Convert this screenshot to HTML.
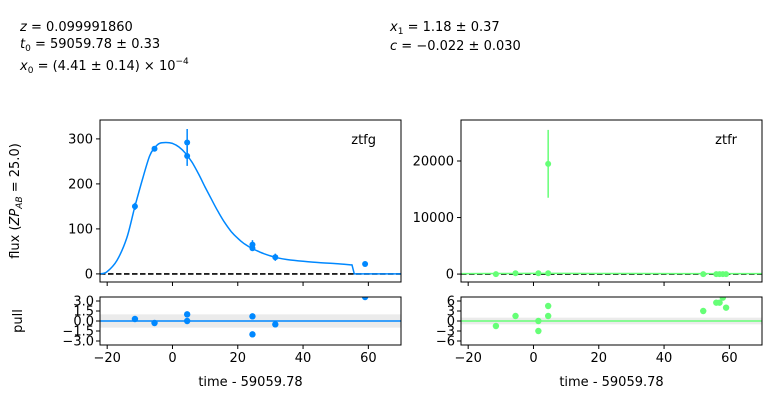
<!DOCTYPE html>
<html><head><meta charset="utf-8"><style>
body{margin:0;background:#fff;}
svg{display:block;font-family:"DejaVu Sans","Liberation Sans",sans-serif;}
.t{font-size:13px;fill:#000}
</style></head><body>
<svg id="c" width="780" height="415" viewBox="0 0 780 415">
<g class="t" font-size="13">
<text x="20" y="31"><tspan font-style="italic">z</tspan> = 0.099991860</text>
<text x="20" y="48"><tspan font-style="italic">t</tspan><tspan font-size="9" dy="3">0</tspan><tspan dy="-3"> = 59059.78 ± 0.33</tspan></text>
<text x="20" y="70"><tspan font-style="italic">x</tspan><tspan font-size="9" dy="3">0</tspan><tspan dy="-3"> = (4.41 ± 0.14) × 10</tspan><tspan font-size="9" dy="-6">−4</tspan></text>
<text x="390" y="31"><tspan font-style="italic">x</tspan><tspan font-size="9" dy="3">1</tspan><tspan dy="-3"> = 1.18 ± 0.37</tspan></text>
<text x="390" y="50"><tspan font-style="italic">c</tspan> = −0.022 ± 0.030</text>
</g>
<text class="t" transform="translate(19,201) rotate(-90)" text-anchor="middle">flux (<tspan font-style="italic">ZP</tspan><tspan font-size="9" font-style="italic" dy="3">AB</tspan><tspan dy="-3"> = 25.0)</tspan></text>
<text class="t" transform="translate(22,321) rotate(-90)" text-anchor="middle">pull</text>
<g id="plots"></g>
</svg>
<script>
// ztfg band data
const gTime=[-11.5,-5.5,4.5,4.5,24.5,24.5,31.5,59];
const gFlux=[150,278,292,262,65,57,37,22];
const gErr=[8,5,30,22,10,5,8,2];
const gPullT=[-11.5,-5.5,4.5,4.5,24.5,24.5,31.5,59];
const gPull=[0.3,-0.3,1.0,0.0,0.7,-2.0,-0.5,3.6];
const gModelT=[-22,-20,-17,-14,-11.5,-9,-7,-5.5,-4,-2,0,2,4,6,8,10,12,14,16,18,20,22,24,26,28,30,32,35,40,45,50,55,55.7,70];
const gModelF=[0,5,30,80,150,215,262,280,290,292,290,282,268,248,222,193,165,138,114,94,79,67,58,51,45,40,36,32,28,25,23,20,0,0];
// ztfr band data
const rTime=[-11.5,-5.5,1.5,4.5,4.5,52,56,57,58,59];
const rFlux=[0,150,150,19500,150,0,0,0,0,0];
const rErr=[30,30,30,6000,30,30,30,30,30,30];
const rPullT=[-11.5,-5.5,1.5,1.5,4.5,4.5,52,56,57,58,59];
const rPull=[-1.5,1.5,0,-3,1.5,4.5,3,5.5,5.5,7,4];
const rModelT=[-22,0,5,20,70];
const rModelF=[80,120,120,100,80];
const xTicks=[-20,0,20,40,60];
const gYTicks=[0,100,200,300];
const rYTicks=[0,10000,20000];
const gPullTicks=[-3.0,-1.5,0.0,1.5,3.0];
const rPullTicks=[-6,-3,0,3,6];

const NS="http://www.w3.org/2000/svg";
const root=document.getElementById('plots');
function mk(tag,attrs,parent){const e=document.createElementNS(NS,tag);for(const k in attrs)e.setAttribute(k,attrs[k]);(parent||root).appendChild(e);return e;}
function smooth(pts){
  // Catmull-Rom to bezier, with straight segments for steep drops
  let d='M'+pts[0][0].toFixed(1)+','+pts[0][1].toFixed(1);
  for(let i=0;i<pts.length-1;i++){
    const p0=pts[Math.max(0,i-1)],p1=pts[i],p2=pts[i+1],p3=pts[Math.min(pts.length-1,i+2)];
    if(Math.abs(p2[0]-p1[0])<4){d+='L'+p2[0].toFixed(1)+','+p2[1].toFixed(1);continue;}
    let q0=p0,q3=p3;
    if(Math.abs(p1[0]-p0[0])<4)q0=p1;
    if(Math.abs(p3[0]-p2[0])<4)q3=p2;
    const c1=[p1[0]+(p2[0]-q0[0])/6,p1[1]+(p2[1]-q0[1])/6];
    const c2=[p2[0]-(q3[0]-p1[0])/6,p2[1]-(q3[1]-p1[1])/6];
    d+='C'+c1.map(v=>v.toFixed(1)).join(',')+' '+c2.map(v=>v.toFixed(1)).join(',')+' '+p2[0].toFixed(1)+','+p2[1].toFixed(1);
  }
  return d;
}
const W=301,XMIN=-22.2,XMAX=70;
function panel(px,color,name,time,flux,err,pT,pull,mT,mF,yTicks,yMin,yMax,pMin,pMax,pTicks,pFmt,label){
  const sx=t=>px+(t-XMIN)/(XMAX-XMIN)*W;
  const top=120,bot=282,ptop=297,pbot=345;
  const sy=v=>bot-(v-yMin)/(yMax-yMin)*(bot-top);
  const sp=v=>pbot-(v-pMin)/(pMax-pMin)*(pbot-ptop);
  const g=mk('g',{});
  
  
  const cid='clip'+name,cid2='clipp'+name;
  const cp=mk('clipPath',{id:cid},g);mk('rect',{x:px,y:top,width:W,height:bot-top},cp);
  const cp2=mk('clipPath',{id:cid2},g);mk('rect',{x:px,y:ptop,width:W,height:pbot-ptop},cp2);
  const z=mk('line',{x1:px,x2:px+W,y1:sy(0),y2:sy(0),stroke:'#000','stroke-width':1.6,'stroke-dasharray':'5.5,2.5'},g);
  
  
  const m=mk('path',{d:smooth(mT.map((t,i)=>[sx(t),sy(mF[i])])),fill:'none',stroke:color,'stroke-width':1.5,'clip-path':'url(#'+cid+')'},g);
  
  
  time.forEach((t,i)=>{
    const e=mk('line',{x1:sx(t),x2:sx(t),y1:sy(flux[i]-err[i]),y2:sy(flux[i]+err[i]),stroke:color,'stroke-width':1.5,'clip-path':'url(#'+cid+')'},g);
    
    
    const c=mk('circle',{cx:sx(t),cy:sy(flux[i]),r:3,fill:color,'clip-path':'url(#'+cid+')'},g);
    
    
  });
  mk('rect',{x:px,y:top,width:W,height:bot-top,fill:'none',stroke:'#000','stroke-width':1},g);
  const lt=mk('text',{x:px+W-25,y:144,'text-anchor':'end',class:'t'},g);lt.textContent=label;
  
  
  yTicks.forEach(v=>{mk('line',{x1:px-4,x2:px,y1:sy(v),y2:sy(v),stroke:'#000'},g);
    const tx=mk('text',{x:px-7,y:sy(v)+4.5,'text-anchor':'end',class:'t'},g);tx.textContent=v;
    
    });
  xTicks.forEach(v=>{mk('line',{x1:sx(v),x2:sx(v),y1:bot,y2:bot+4,stroke:'#000'},g);
    mk('line',{x1:sx(v),x2:sx(v),y1:pbot,y2:pbot+4,stroke:'#000'},g);
    const tx=mk('text',{x:sx(v),y:pbot+17,'text-anchor':'middle',class:'t'},g);tx.textContent=v<0?'−'+(-v):v;
    
    });
  mk('rect',{x:px,y:sp(1),width:W,height:sp(-1)-sp(1),fill:'#ebebeb','clip-path':'url(#'+cid2+')'},g);
  const pl=mk('line',{x1:px,x2:px+W,y1:sp(0),y2:sp(0),stroke:color,'stroke-width':1.5},g);
  
  
  pT.forEach((t,i)=>{const c=mk('circle',{cx:sx(t),cy:sp(pull[i]),r:3.2,fill:color,'clip-path':'url(#'+cid2+')'},g);
    
    });
  mk('rect',{x:px,y:ptop,width:W,height:pbot-ptop,fill:'none',stroke:'#000'},g);
  pTicks.forEach(v=>{mk('line',{x1:px-4,x2:px,y1:sp(v),y2:sp(v),stroke:'#000'},g);
    const tx=mk('text',{x:px-6,y:sp(v)+4.5,'text-anchor':'end',class:'t'},g);tx.textContent=pFmt(v);
    
    });
  const xl=mk('text',{x:px+W/2,y:386,'text-anchor':'middle',class:'t'},g);xl.textContent='time - 59059.78';
  
  
}
const f1=v=>(v<0?'−':'')+Math.abs(v).toFixed(1);
const f0=v=>(v<0?'−':'')+Math.abs(v);
panel(100,'#0088ff','ztfg',gTime,gFlux,gErr,gPullT,gPull,gModelT,gModelF,gYTicks,-18,342,-3.6,3.6,gPullTicks,f1,'ztfg');
panel(461,'#66ff77','ztfr',rTime,rFlux,rErr,rPullT,rPull,rModelT,rModelF,rYTicks,-1400,27250,-7.2,7.2,rPullTicks,f0,'ztfr');
</script>
</body></html>
